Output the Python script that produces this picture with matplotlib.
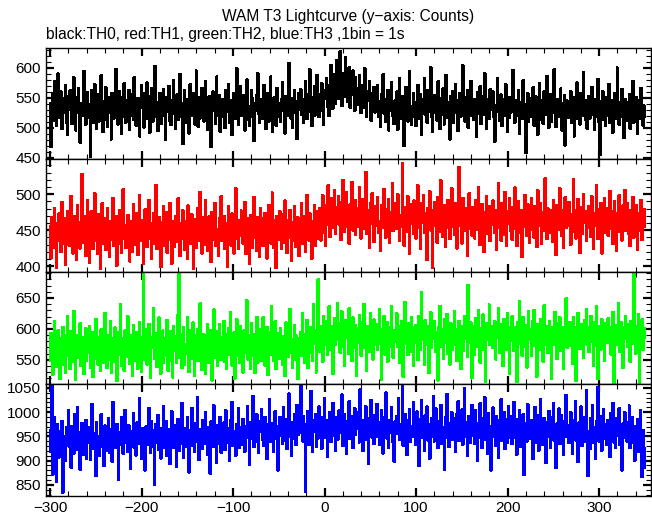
import numpy as np
import matplotlib.pyplot as plt
from matplotlib.ticker import MultipleLocator

plt.rcParams['font.family'] = ['Liberation Sans', 'DejaVu Sans']

# counts per 1 s bin, starting at t = -300 s
th0 = [
    541, 468, 529, 557, 512, 578, 534, 503, 546, 590, 521, 517, 560, 498, 537, 549, 526, 571, 509, 488, 553,
    530, 562, 545, 507, 519, 584, 538, 496, 525, 551, 566, 513, 475, 540, 533, 521, 594, 547, 505, 528, 559,
    517, 539, 452, 524, 563, 508, 541, 572, 529, 499, 536, 555, 511, 548, 587, 520, 493, 532, 544, 567, 514,
    502, 550, 537, 525, 481, 558, 543, 516, 530, 598, 522, 506, 539, 561, 535, 490, 527, 552, 574, 518, 509,
    546, 531, 563, 497, 520, 542, 555, 513, 584, 528, 504, 536, 549, 519, 486, 547, 570, 533, 524, 501, 558,
    539, 575, 515, 528, 492, 552, 566, 537, 511, 526, 603, 543, 518, 495, 530, 558, 545, 507, 521, 564, 534,
    480, 527, 551, 540, 569, 512, 505, 533, 546, 579, 523, 498, 538, 556, 514, 529, 589, 542, 518, 473, 536,
    562, 525, 509, 548, 535, 491, 572, 544, 520, 531, 557, 506, 539, 595, 527, 502, 550, 516, 541, 566, 530,
    511, 543, 578, 523, 497, 536, 552, 514, 468, 529, 560, 545, 533, 507, 585, 521, 538, 554, 494, 526, 548,
    535, 519, 500, 562, 541, 527, 573, 509, 531, 546, 488, 524, 557, 538, 515, 599, 532, 505, 543, 569, 520,
    527, 554, 538, 496, 512, 580, 545, 521, 503, 536, 563, 550, 517, 478, 540, 529, 555, 591, 524, 508, 542,
    548, 515, 533, 571, 526, 499, 539, 558, 510, 545, 585, 530, 493, 522, 551, 537, 504, 566, 541, 519, 534,
    510, 547, 576, 528, 535, 491, 553, 520, 542, 608, 531, 516, 549, 500, 538, 562, 525, 544, 482, 530, 557,
    536, 564, 522, 548, 509, 541, 578, 530, 515, 556, 543, 597, 527, 503, 550, 537, 569, 521, 546, 588, 532,
    518, 555, 540, 574, 528, 505, 562, 549, 583, 536, 559, 520, 571, 604, 547, 532, 566, 589, 541, 612, 558,
    575, 548, 627, 563, 537, 590, 569, 552, 618, 580, 543, 565, 601, 534, 577, 556, 595, 562, 529, 584, 551,
    566, 538, 588, 547, 525, 571, 553, 534, 599, 542, 519, 560, 545, 577, 530, 512, 557, 540, 568, 526, 549,
    535, 571, 518, 544, 502, 556, 531, 589, 524, 547, 510, 539, 563, 496, 528, 552, 576, 521, 537, 507, 545,
    529, 560, 497, 538, 582, 516, 543, 525, 553, 470, 532, 568, 540, 511, 549, 594, 523, 506, 536, 557, 519,
    542, 503, 528, 571, 534, 515, 556, 489, 530, 547, 582, 522, 538, 509, 563, 527, 545, 601, 518, 493, 531,
    554, 526, 540, 512, 577, 533, 498, 521, 549, 565, 537, 506, 524, 588, 543, 517, 535, 481, 552, 529, 561,
    508, 539, 573, 525, 546, 495, 532, 557, 519, 541, 604, 528, 511, 550, 536, 562, 500, 527, 544, 578, 520,
    537, 513, 548, 530, 486, 559, 524, 542, 569, 507, 533, 553, 522, 591, 539, 498, 526, 547, 515, 564, 531,
    545, 560, 519, 477, 538, 527, 583, 541, 512, 529, 555, 503, 536, 548, 521, 572, 534, 494, 550, 517, 540,
    526, 551, 596, 532, 509, 545, 520, 538, 562, 491, 528, 543, 515, 579, 535, 523, 458, 540, 557, 511, 533,
    549, 518, 530, 567, 504, 537, 552, 525, 489, 541, 574, 514, 531, 546, 507, 560, 528, 522, 586, 538, 500,
    532, 556, 511, 543, 525, 597, 536, 502, 527, 548, 519, 533, 565, 496, 540, 521, 554, 471, 529, 545, 517,
    538, 524, 561, 509, 534, 550, 486, 527, 543, 575, 515, 530, 506, 558, 537, 520, 592, 531, 513, 546, 499,
    529, 553, 516, 540, 568, 522, 535, 497, 547, 519, 532, 581, 510, 455, 526, 544, 561, 514, 538, 503, 550,
    521, 536, 573, 508, 530, 545, 492, 524, 557, 515, 539, 600, 527, 505, 543, 519, 564, 531, 483, 535, 548,
    512, 542, 527, 556, 499, 533, 520, 578, 509, 538, 524, 551, 490, 530, 546, 515, 566, 523, 504, 537, 518,
]

th1 = [
    455, 412, 468, 439, 426, 481, 447, 398, 460, 436, 473, 451, 420, 489, 444, 431, 466, 402, 458, 476, 440,
    429, 463, 497, 445, 418, 452, 470, 437, 409, 484, 448, 461, 425, 443, 528, 456, 433, 470, 414, 449, 491,
    438, 405, 459, 476, 442, 424, 466, 501, 435, 450, 417, 472, 446, 396, 458, 487, 431, 453, 467, 423, 444,
    480, 449, 413, 462, 437, 455, 495, 428, 441, 470, 401, 453, 432, 478, 460, 419, 446, 507, 439, 457, 426,
    452, 471, 434, 407, 463, 448, 420, 486, 445, 430, 458, 474, 416, 442, 499, 451, 436, 464, 403, 455, 479,
    441, 427, 466, 492, 438, 453, 411, 459, 474, 432, 447, 513, 424, 450, 468, 437, 399, 461, 444, 483, 429,
    458, 475, 419, 446, 437, 488, 452, 404, 463, 441, 427, 470, 455, 434, 494, 448, 415, 460, 439, 478, 450,
    423, 462, 446, 410, 484, 439, 457, 431, 472, 449, 397, 465, 443, 426, 481, 454, 436, 503, 445, 418, 468,
    447, 430, 491, 456, 421, 440, 469, 452, 406, 475, 437, 460, 488, 428, 451, 442, 415, 466, 435, 497, 453,
    436, 470, 424, 459, 446, 400, 483, 441, 455, 429, 473, 450, 418, 462, 508, 438, 447, 425, 464, 443, 477,
    461, 432, 452, 489, 417, 445, 466, 435, 403, 471, 449, 426, 458, 496, 440, 456, 421, 468, 444, 413, 480,
    443, 467, 428, 451, 474, 437, 411, 460, 485, 448, 432, 455, 502, 426, 464, 441, 398, 469, 453, 437, 476,
    450, 424, 472, 445, 433, 491, 457, 419, 464, 440, 478, 452, 408, 461, 435, 483, 447, 427, 468, 456, 414,
    466, 442, 487, 431, 454, 470, 420, 448, 499, 459, 436, 473, 444, 411, 462, 451, 484, 428, 457, 476, 439,
    452, 481, 436, 463, 498, 447, 470, 429, 485, 458, 512, 466, 441, 477, 494, 453, 471, 505, 445, 482, 462,
    497, 458, 474, 437, 489, 520, 465, 448, 479, 503, 455, 470, 431, 486, 463, 517, 450, 476, 492, 444, 469,
    481, 455, 510, 467, 439, 474, 493, 452, 462, 531, 445, 477, 468, 426, 488, 459, 501, 471, 434, 483, 457,
    472, 496, 447, 463, 421, 485, 470, 454, 507, 466, 440, 479, 458, 493, 433, 475, 462, 515, 449, 468, 488,
    452, 478, 500, 460, 436, 471, 455, 543, 467, 429, 482, 464, 448, 497, 473, 418, 459, 486, 469, 445, 491,
    465, 439, 475, 512, 453, 470, 424, 487, 461, 498, 446, 473, 458, 409, 481, 467, 504, 450, 477, 398, 463,
    489, 457, 471, 433, 496, 462, 448, 519, 475, 441, 466, 485, 427, 469, 453, 492, 474, 438, 460, 508, 455,
    470, 444, 487, 461, 425, 478, 538, 456, 468, 432, 495, 463, 449, 480, 472, 414, 466, 501, 452, 476, 443,
    482, 460, 439, 492, 468, 451, 510, 473, 430, 464, 486, 457, 420, 475, 462, 497, 445, 469, 483, 435, 471,
    458, 491, 466, 447, 478, 423, 463, 515, 454, 472, 436, 488, 461, 444, 503, 470, 429, 476, 459, 494, 449,
    473, 437, 482, 465, 509, 452, 428, 470, 490, 461, 446, 478, 413, 467, 455, 499, 474, 442, 486, 458, 433,
    466, 495, 451, 474, 440, 483, 462, 427, 505, 469, 457, 488, 432, 471, 449, 476, 522, 460, 438, 480, 455,
    447, 478, 469, 434, 492, 459, 473, 416, 485, 463, 451, 508, 470, 442, 477, 426, 464, 496, 453, 481, 467,
    489, 456, 430, 472, 464, 521, 448, 477, 439, 467, 493, 458, 419, 482, 470, 445, 500, 461, 476, 436, 462,
    454, 483, 468, 441, 497, 460, 425, 474, 456, 512, 466, 438, 479, 452, 488, 418, 469, 459, 495, 446, 472,
    480, 443, 463, 504, 452, 476, 431, 467, 490, 457, 421, 473, 461, 498, 448, 470, 436, 484, 465, 506, 450,
    461, 487, 445, 470, 428, 478, 458, 496, 440, 466, 453, 485, 423, 474, 462, 449, 492, 437, 468, 455, 479,
]

th2 = [
    548, 593, 571, 526, 557, 612, 580, 539, 565, 598, 551, 519, 584, 567, 603, 542, 575, 530, 589, 620, 556,
    573, 535, 596, 561, 547, 629, 582, 518, 568, 590, 553, 577, 609, 540, 564, 586, 527, 572, 601, 549, 583,
    562, 604, 538, 579, 595, 523, 566, 552, 616, 574, 543, 587, 560, 532, 599, 570, 545, 581, 625, 558, 537,
    590, 551, 576, 613, 529, 563, 585, 547, 602, 571, 516, 594, 559, 578, 640, 541, 568, 584, 533, 597, 555,
    580, 620, 563, 544, 589, 572, 525, 606, 561, 583, 548, 595, 536, 574, 611, 557, 531, 586, 690, 566, 550,
    599, 543, 578, 608, 556, 521, 587, 570, 634, 552, 575, 593, 539, 566, 618, 581, 528, 560, 597, 545, 573,
    557, 586, 614, 533, 571, 596, 549, 580, 522, 605, 565, 588, 546, 577, 623, 688, 554, 591, 537, 569, 602,
    543, 575, 560, 619, 582, 531, 597, 568, 552, 610, 576, 524, 589, 563, 600, 548, 585, 641, 559, 534, 578,
    591, 556, 528, 583, 607, 562, 545, 598, 574, 517, 586, 631, 553, 570, 596, 540, 579, 608, 565, 550, 587,
    569, 613, 547, 592, 535, 576, 601, 558, 627, 581, 541, 565, 594, 520, 573, 615, 556, 588, 545, 604, 571,
    584, 530, 597, 562, 578, 646, 551, 589, 568, 536, 609, 574, 557, 592, 529, 582, 619, 546, 571, 599, 563,
    548, 590, 619, 567, 541, 582, 603, 526, 576, 595, 558, 637, 570, 549, 586, 612, 535, 579, 564, 593, 552,
    601, 566, 543, 588, 577, 524, 610, 572, 555, 597, 632, 561, 583, 538, 574, 606, 550, 589, 568, 519, 584,
    572, 595, 556, 626, 580, 545, 591, 567, 614, 537, 585, 603, 562, 578, 549, 640, 576, 598, 530, 587, 680,
    596, 563, 605, 583, 547, 621, 590, 574, 612, 558, 599, 636, 581, 566, 604, 527, 593, 617, 575, 588, 641,
    583, 609, 562, 597, 628, 572, 590, 541, 614, 586, 603, 560, 633, 579, 595, 548, 618, 588, 570, 606, 524,
    601, 578, 622, 594, 557, 611, 585, 640, 569, 597, 532, 605, 588, 563, 626, 580, 599, 551, 615, 592, 574,
    608, 566, 589, 631, 576, 518, 600, 584, 621, 559, 595, 611, 547, 587, 603, 572, 636, 590, 554, 597, 579,
    593, 625, 571, 604, 545, 588, 612, 580, 523, 598, 643, 576, 591, 558, 609, 585, 564, 618, 596, 540, 602,
    577, 606, 589, 550, 620, 595, 566, 659, 583, 600, 542, 614, 587, 574, 605, 529, 592, 627, 569, 598, 585,
    612, 563, 594, 580, 517, 603, 637, 586, 571, 599, 552, 615, 590, 578, 624, 560, 597, 543, 609, 584, 566,
    596, 628, 575, 600, 548, 589, 613, 581, 536, 605, 592, 565, 621, 584, 598, 555, 671, 593, 578, 610, 521,
    588, 604, 559, 617, 595, 572, 630, 584, 546, 601, 589, 623, 567, 594, 515, 609, 582, 598, 639, 574, 591,
    605, 569, 593, 612, 551, 586, 600, 634, 578, 561, 607, 590, 540, 616, 585, 598, 567, 626, 592, 528, 603,
    581, 620, 597, 565, 603, 589, 514, 610, 594, 645, 576, 600, 557, 619, 588, 571, 606, 538, 595, 628, 583,
    599, 556, 612, 586, 630, 573, 594, 523, 607, 591, 567, 615, 582, 600, 547, 638, 589, 575, 604, 561, 596,
    613, 584, 520, 602, 590, 574, 627, 597, 552, 609, 586, 619, 565, 593, 603, 536, 598, 582, 649, 570, 606,
    587, 611, 573, 596, 544, 618, 591, 603, 516, 584, 625, 599, 568, 608, 579, 594, 553, 614, 589, 632, 575,
    602, 563, 594, 621, 580, 597, 540, 610, 586, 636, 571, 519, 605, 592, 567, 615, 598, 583, 548, 609, 593,
    578, 617, 588, 603, 559, 595, 627, 512, 590, 606, 574, 598, 642, 581, 563, 611, 596, 537, 602, 585, 620,
    594, 571, 608, 583, 547, 613, 599, 576, 690, 588, 560, 604, 591, 624, 513, 597, 580, 615, 566, 601, 586,
]

th3 = [
    962, 918, 1055, 871, 948, 990, 933, 856, 975, 941, 907, 960, 925, 982, 834, 951, 937, 899, 968, 944, 1003,
    929, 953, 886, 971, 940, 915, 996, 947, 922, 1010, 936, 958, 881, 945, 977, 912, 949, 930, 984, 903, 954,
    938, 969, 901, 947, 1016, 924, 957, 942, 868, 979, 933, 951, 910, 964, 995, 928, 946, 889, 972, 939, 920,
    955, 987, 917, 943, 964, 898, 1021, 935, 950, 926, 975, 944, 861, 958, 932, 989, 947, 914, 968, 1004, 936,
    945, 919, 972, 953, 884, 961, 940, 997, 927, 956, 911, 978, 949, 935, 1028, 942, 903, 966, 931, 952, 880,
    970, 933, 957, 1008, 944, 916, 982, 929, 963, 850, 948, 975, 938, 994, 922, 955, 905, 967, 941, 1012, 926,
    951, 981, 910, 946, 965, 893, 938, 1001, 957, 927, 972, 943, 887, 960, 986, 921, 949, 935, 1019, 954, 906,
    940, 967, 929, 990, 953, 876, 962, 944, 1008, 931, 956, 918, 977, 947, 1030, 938, 901, 964, 950, 925, 984,
    958, 934, 999, 947, 912, 969, 941, 873, 980, 955, 928, 1014, 944, 962, 896, 973, 950, 935, 990, 917, 961,
    945, 978, 922, 1003, 954, 938, 967, 900, 983, 949, 1021, 930, 960, 944, 910, 975, 957, 1007, 927, 952, 968,
    933, 986, 956, 919, 970, 948, 1012, 961, 892, 979, 946, 957, 1033, 928, 964, 940, 995, 951, 916, 982, 959,
    1005, 944, 968, 930, 989, 957, 903, 975, 951, 1026, 939, 963, 977, 918, 956, 1001, 945, 970, 880, 962, 990,
    952, 973, 935, 1009, 960, 942, 985, 924, 967, 1038, 949, 958, 911, 979, 945, 996, 963, 932, 1015, 954, 970,
    981, 1058, 957, 940, 992, 964, 835, 975, 948, 1002, 933, 966, 1043, 951, 918, 984, 960, 995, 929, 971, 946,
    1011, 958, 976, 925, 989, 963, 1029, 947, 970, 908, 984, 955, 1000, 939, 967, 1019, 952, 978, 921, 990, 962,
    944, 1003, 968, 957, 1036, 930, 974, 996, 949, 914, 981, 962, 1022, 945, 970, 991, 927, 959, 1008, 953, 977,
    965, 999, 938, 1047, 960, 983, 921, 971, 955, 1012, 943, 966, 893, 988, 957, 1025, 948, 974, 935, 994, 961,
    1017, 950, 978, 932, 967, 1003, 956, 915, 989, 964, 1040, 946, 972, 926, 984, 958, 1009, 940, 969, 898, 980,
    955, 992, 966, 1029, 944, 975, 957, 1056, 931, 968, 996, 950, 912, 983, 962, 1005, 939, 971, 949, 1020, 958,
    976, 932, 1001, 961, 889, 985, 954, 1024, 947, 967, 920, 993, 958, 1011, 942, 975, 904, 963, 988, 950, 1033,
    940, 973, 1007, 953, 926, 981, 962, 1015, 935, 969, 955, 882, 990, 948, 1037, 964, 928, 977, 957, 999, 944,
    987, 958, 918, 995, 966, 1022, 941, 971, 954, 1005, 933, 962, 1049, 949, 979, 910, 968, 992, 937, 960, 1014,
    952, 980, 935, 1003, 963, 899, 976, 947, 1018, 957, 926, 988, 966, 1031, 943, 972, 915, 997, 954, 970, 880,
    969, 1009, 950, 976, 930, 992, 961, 906, 983, 955, 1026, 941, 967, 1000, 924, 958, 985, 938, 1012, 964, 947,
    991, 934, 962, 1021, 948, 973, 912, 986, 956, 1004, 929, 965, 943, 995, 871, 960, 977, 939, 1016, 952, 970,
    945, 983, 957, 903, 970, 1010, 938, 962, 994, 920, 954, 1027, 947, 975, 932, 988, 961, 896, 979, 950, 1002,
    963, 926, 989, 952, 1018, 941, 968, 885, 976, 955, 1007, 934, 960, 993, 945, 913, 981, 958, 1035, 949, 971,
    936, 974, 1000, 948, 915, 984, 959, 1023, 942, 966, 898, 978, 951, 1011, 930, 963, 990, 940, 972, 1045, 955,
    868, 960, 925, 987, 948, 1014, 937, 969, 904, 981, 953, 1052, 940, 966, 991, 921, 958, 1006, 946, 975, 932,
    983, 945, 962, 908, 997, 955, 1019, 938, 970, 927, 988, 951, 964, 1008, 932, 959, 880, 976, 947, 1000, 961,
    940, 978, 955, 1013, 926, 963, 990, 936, 958, 900, 971, 944, 985, 919, 952, 1004, 937, 866, 962, 925, 885,
]

series = [th0, th1, th2, th3]
colors = ['#000000', '#ff0000', '#00ff00', '#0000ff']
ylims = [(448, 633), (392, 549), (511, 692), (827, 1058)]
t_start = -300

fig = plt.figure(figsize=(6.52, 5.15), dpi=100)
left, width = 46 / 652, 605 / 652
edges = [48, 159, 272, 384, 496]

for i, (vals, c, yl) in enumerate(zip(series, colors, ylims)):
    top, bot = edges[i], edges[i + 1]
    ax = fig.add_axes([left, 1 - bot / 515, width, (bot - top) / 515])
    t = np.arange(len(vals)) + t_start
    ax.plot(t, vals, color=c, lw=1.2, drawstyle='steps-mid', antialiased=False)
    ax.set_xlim(-304.4, 356.7)
    ax.set_ylim(*yl)
    ax.xaxis.set_major_locator(MultipleLocator(100))
    ax.xaxis.set_minor_locator(MultipleLocator(20))
    ax.yaxis.set_major_locator(MultipleLocator(50))
    ax.yaxis.set_minor_locator(MultipleLocator(10))
    ax.tick_params(which='both', direction='in', top=True, right=True, labelsize=11)
    ax.tick_params(which='major', length=6, width=1.6)
    ax.tick_params(which='minor', length=3.5, width=0.8)
    for s in ax.spines.values():
        s.set_linewidth(1.0)
    if i < 3:
        ax.tick_params(labelbottom=False)

fig.text(left + width / 2, 1 - 17 / 515, 'WAM T3 Lightcurve (y\u2212axis: Counts)',
         fontsize=11.2, ha='center', va='center')
fig.text(left, 1 - 35 / 515, 'black:TH0, red:TH1, green:TH2, blue:TH3 ,1bin = 1s',
         fontsize=11.2, ha='left', va='center')

fig.savefig('out.png', dpi=100)
